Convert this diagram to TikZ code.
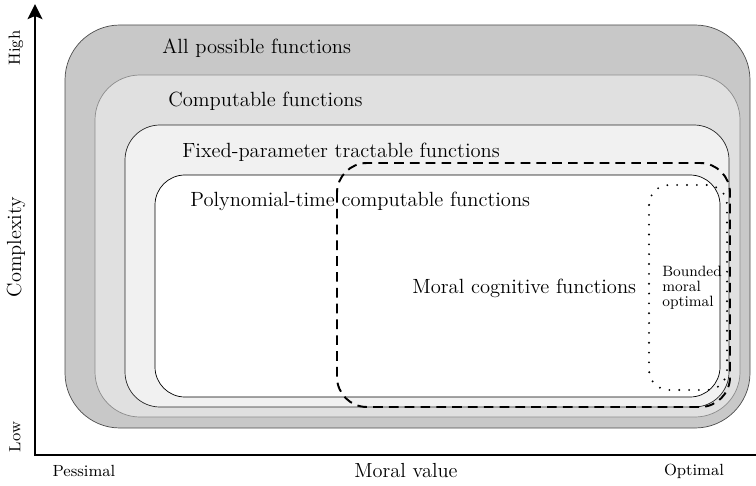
\documentclass[tikz,border=0pt]{standalone}
\usetikzlibrary{arrows.meta}
\definecolor{allgray}{HTML}{C8C8C8}
\definecolor{compgray}{HTML}{E0E0E0}
\definecolor{fptgray}{HTML}{F1F1F1}

\begin{document}
\begin{tikzpicture}[x=0.02cm,y=-0.02cm,
    classlbl/.style={anchor=west,inner sep=0pt,font=\fontsize{11.7}{13}\selectfont},
    ticklbl/.style={inner sep=0pt,font=\fontsize{9.2}{10}\selectfont},
    axislbl/.style={inner sep=0pt,font=\fontsize{11.6}{13}\selectfont}]
  \useasboundingbox (0,0) rectangle (756,486);
  % nested function classes
  \draw[draw=black!70,fill=allgray,rounded corners=1.1cm] (65,25) rectangle (750,428);
  \draw[draw=black!45,fill=compgray,rounded corners=0.9cm] (95,75) rectangle (740,417);
  \draw[draw=black!85,fill=fptgray,rounded corners=0.7cm] (125,125) rectangle (729,407);
  \draw[draw=black,fill=white,rounded corners=0.6cm] (155,175) rectangle (720,397);
  \node[classlbl] (allfn) at (162,48) {All possible functions};
  \node[classlbl] (compfn) at (168,101) {Computable functions};
  \node[classlbl] (fptfn) at (182,152) {Fixed-parameter tractable functions};
  \node[classlbl] (polyfn) at (190,201) {Polynomial-time computable functions};
  % moral cognitive functions (dashed) and bounded optimum (dotted)
  \draw[line width=1.1pt,dash pattern=on 5.5pt off 3.5pt,rounded corners=0.6cm]
    (337,163) rectangle (730,407);
  \node[classlbl] (moralfn) at (412,288) {Moral cognitive functions};
  \draw[line width=1.2pt,line cap=round,dash pattern=on 0pt off 5.6pt,rounded corners=0.4cm]
    (649,185) rectangle (727,390);
  \node[anchor=north west,inner sep=0pt,align=left,
        font=\fontsize{8.5}{8.5}\selectfont] (bmo) at (662,266)
        {Bounded\\moral\\optimal};
  % axes
  \coordinate (origin) at (35,455);
  \coordinate (ytop) at (35,4);
  \coordinate (xend) at (756,455);
  \draw[line width=1.5pt,{Stealth[length=0.3cm,width=0.29cm,inset=0.06cm]}-]
    (ytop) -- (origin) -- (xend);
  \node[ticklbl,rotate=90] (high) at (16,48) {High};
  \node[ticklbl,rotate=90] (low) at (15,437) {Low};
  \node[axislbl,rotate=90] (cplx) at (16,247) {Complexity};
  \node[ticklbl] (pess) at (84,471) {Pessimal};
  \node[axislbl] (mval) at (406,471) {Moral value};
  \node[ticklbl] (opt) at (694,471) {Optimal};
\end{tikzpicture}
\end{document}
